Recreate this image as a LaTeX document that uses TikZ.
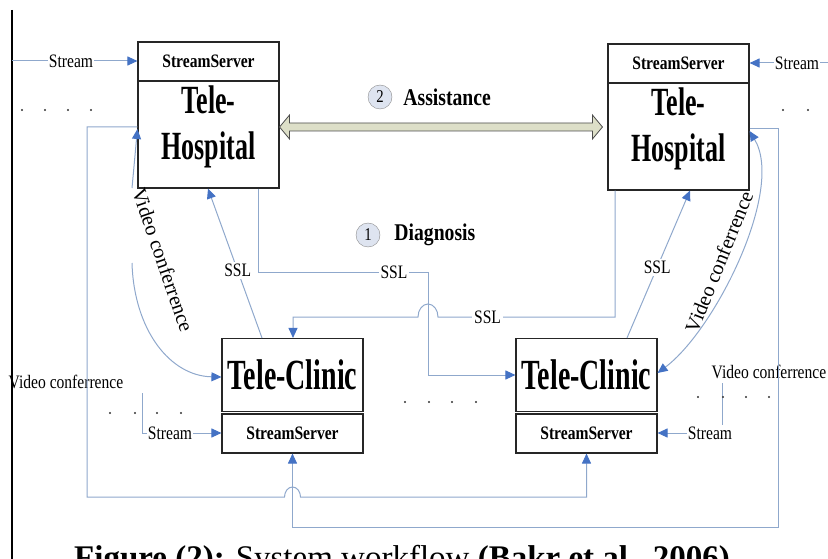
\documentclass[tikz,border=0pt]{standalone}
\usepackage{fontspec}
\setmainfont{Liberation Serif}
\newfontfamily\bigcnd[FakeStretch=0.65]{Liberation Serif}
\newfontfamily\smallcnd[FakeStretch=0.82]{Liberation Serif}
\usetikzlibrary{arrows.meta,positioning,calc}
\definecolor{linkblue}{RGB}{143,168,204}
\definecolor{tipblue}{RGB}{68,114,196}
\definecolor{fatfill}{RGB}{221,223,200}
\definecolor{numfill}{RGB}{222,228,240}
\tikzset{>=latex}

\begin{document}
\begin{tikzpicture}[x=1pt,y=-1pt,
    box/.style={draw=black!85, line width=1.1pt, inner sep=0pt, minimum width=141pt},
    ssbox/.style={box, minimum height=39pt, font=\smallcnd\bfseries\fontsize{19}{22}\selectfont},
    bigtext/.style={font=\bigcnd\bfseries\fontsize{40}{46}\selectfont, align=center},
    link/.style={draw=linkblue, line width=1pt},
    tip/.style={-{Triangle[length=10pt,width=9pt,color=tipblue]}},
    both/.style={{Triangle[length=10pt,width=9pt,color=tipblue]}-{Triangle[length=10pt,width=9pt,color=tipblue]}},
    small/.style={font=\smallcnd\fontsize{19}{22}\selectfont, inner sep=1pt},
    slanted label/.style={font=\fontsize{20.5}{23}\selectfont, inner sep=1pt},
    ssl/.style={small, fill=white, inner sep=2pt},
    num/.style={circle, draw=black!45, fill=numfill, minimum size=24pt, inner sep=0pt, font=\smallcnd\fontsize{18}{20}\selectfont},
    step label/.style={font=\smallcnd\bfseries\fontsize{24}{28}\selectfont, inner sep=1pt}]
  \useasboundingbox (0,0) rectangle (828,559);
  \clip (0,0) rectangle (828,559);

  % left border
  \draw[black, line width=1.4pt] (12,10) -- (12,559);

  % hospitals
  \node[ssbox] (lss) at (208.5,61.5) {StreamServer};
  \node[box, minimum height=107pt] (lhosp) at (208.5,134.5) {};
  \node[bigtext] (lhospt) at (208.5,127) {Tele-\\Hospital};
  \node[ssbox] (rss) at (678.5,63.5) {StreamServer};
  \node[box, minimum height=107pt] (rhosp) at (678.5,136.5) {};
  \node[bigtext] (rhospt) at (678.5,129) {Tele-\\Hospital};

  % clinics
  \node[box, minimum height=73pt, font=\bigcnd\bfseries\fontsize{43}{48}\selectfont] (lclin) at (292.5,375) {Tele-Clinic};
  \node[ssbox] (lcss) at (292.5,433.5) {StreamServer};
  \node[box, minimum height=73pt, font=\bigcnd\bfseries\fontsize{43}{48}\selectfont] (rclin) at (586.5,375) {Tele-Clinic};
  \node[ssbox] (rcss) at (586.5,433.5) {StreamServer};

  % assistance
  \coordinate (asL) at (lhosp.east |- 0,127);
  \coordinate (asR) at ($(rhosp.west |- 0,127)+(-5,0)$);
  \draw[draw=black!70, fill=fatfill, line width=0.8pt] let \p1=(asL), \p2=(asR) in
    (\x1,\y1) -- ++(10pt,12pt) -- ++(0,-8pt) -- (\x2-10pt,\y1+4pt) -- ++(0,8pt)
    -- (\x2,\y1) -- ++(-10pt,-12pt) -- ++(0,8pt) -- (\x1+10pt,\y1-4pt) -- ++(0,-8pt) -- cycle;
  \node[num] (n2) at (380,97) {2};
  \node[step label, right=10pt of n2] (assist) {Assistance};
  \node[num] (n1) at (368,235) {1};
  \node[step label, right=13pt of n1] (diag) {Diagnosis};

  % streams
  \node[small] (stl) at (71,61) {Stream};
  \coordinate (stlin) at (12,61);
  \draw[link] (stlin) -- (stl);
  \draw[link,tip] (stl) -- (lss.west |- stl);
  \node[small] (str) at (797,63) {Stream};
  \coordinate (strin) at (828,63);
  \draw[link] (strin) -- (str);
  \draw[link,tip] (str) -- (rss.east |- str);
  \node[small] (sbl) at (170,433) {Stream};
  \coordinate (sblin) at (142,393);
  \draw[link] (sblin) |- (sbl.west);
  \draw[link,tip] (sbl) -- (lcss.west |- sbl);
  \node[small] (sbr) at (710,433) {Stream};
  \draw[link,tip] (sbr) -- (rcss.east |- sbr);

  % video conference
  \node[small] (vcl) at (66,382) {Video conferrence};
  \node[small] (vcr) at (769,372) {Video conferrence};
  \coordinate (vcrl) at (722,383);
  \draw[link] (vcrl) -- (vcrl |- sbr.north);
  \coordinate (vcla) at (132,188);
  \coordinate (vclb) at (132,263);
  \draw[link,tip] (vcla) -- (lhosp.west |- 0,129);
  \draw[link,tip] (vclb) .. controls (134,330) and (170,376) .. (lclin.west |- 0,377);
  \node[slanted label, rotate=-71] (vcltxt) at (163,260) {Video conferrence};
  \draw[link,both] (rclin.east |- 0,373) .. controls (715,330) and (785,190) .. (rhosp.east |- 0,131);
  \node[slanted label, rotate=68] (vcrtxt) at (719,262) {Video conferrence};

  % ssl
  \draw[link,tip] (lclin.north -| 262,0) -- node[ssl,pos=0.45] {SSL} (lhosp.south -| 208,0);
  \draw[link,tip] (rclin.north -| 627,0) -- node[ssl,pos=0.48] {SSL} (rhosp.south -| 690,0);
  \draw[link,tip] (lhosp.south -| 258,0) |- node[ssl,pos=0.9] {SSL} (428,272) |- (rclin.west);
  \draw[link,tip] (rhosp.south -| 615,0) -- (615,317) -- node[ssl,pos=0.72] {SSL} (438,317)
    arc[start angle=0, end angle=-180, x radius=10, y radius=13] -- (293,317) -- (lclin.north -| 293,0);

  % loops to the stream servers
  \draw[link,tip] (lhosp.west |- 0,127) -- (87,127) -- (87,497) -- (284.5,497)
    arc[start angle=180, end angle=360, x radius=8, y radius=10] -- (rcss.south |- 0,497) -- (rcss.south);
  \draw[link,tip] (rhosp.east |- 0,129) -- (778,129) -- (778,527) -- (lcss.south |- 0,527) -- (lcss.south);

  % dots
  \foreach \x in {22,45,68,91} \fill[black!80] (\x,110) circle[radius=1.1];
  \foreach \x in {783,808} \fill[black!80] (\x,110) circle[radius=1.1];
  \foreach \x in {405,429,452,476} \fill[black!80] (\x,402) circle[radius=1.1];
  \foreach \x in {110,135,157,181} \fill[black!80] (\x,413) circle[radius=1.1];
  \foreach \x in {698,723,746,769} \fill[black!80] (\x,397) circle[radius=1.1];

  % caption (cut by the page edge)
  \node[anchor=base, font=\fontsize{33}{36}\selectfont, inner sep=0pt] (cap) at (402,568)
    {\textbf{Figure (2):} System workflow \textbf{(Bakr et al., 2006)}};
\end{tikzpicture}
\end{document}
